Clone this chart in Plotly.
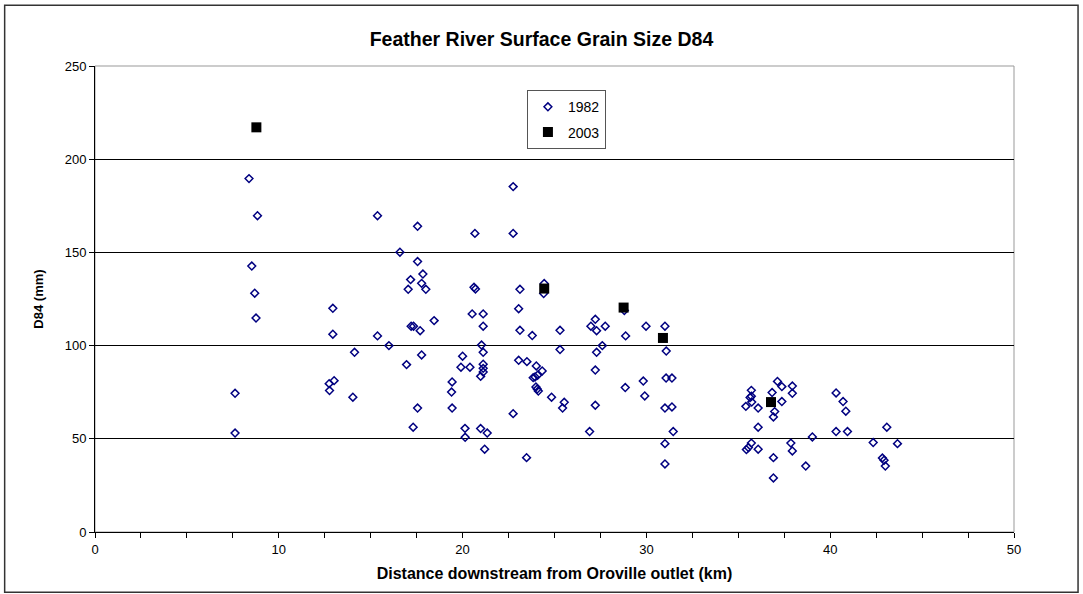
import plotly.graph_objects as go

# 1982 survey: distance downstream (km) and surface D84 (mm)
dist_1982 = [
    8.38, 8.84, 8.53, 8.69, 8.76, 7.62, 7.62,
    12.94, 12.94, 14.12, 12.74, 13.01, 12.76, 14.03, 15.37, 15.37,
    16.59, 17.55, 17.55, 17.84, 17.17, 17.77, 17.04, 18.00,
    20.62, 20.70, 20.67, 22.75, 22.75, 23.12, 24.44, 24.41, 23.05, 28.80,
    15.99, 16.95, 17.55, 17.31, 17.20, 17.33, 17.69, 18.45, 17.77,
    19.43, 19.40, 19.43, 20.00, 19.91, 20.40, 20.52, 21.12, 21.12,
    21.03, 21.12, 21.12, 21.12, 21.12, 20.98, 20.13, 20.14, 20.98,
    21.34, 21.20, 23.05, 23.50, 24.01, 24.33, 24.08, 23.94, 23.84,
    23.99, 24.06, 24.12, 24.84, 25.53, 25.44, 22.75, 23.48, 23.79,
    23.12, 25.30, 25.30, 27.22, 26.98, 27.29, 27.76, 27.60, 27.29,
    27.22, 27.22, 26.91, 28.87, 28.85, 29.98, 29.83, 29.91,
    31.01, 31.08, 31.07, 31.39, 31.01, 31.39, 31.46, 31.01, 31.01,
    35.71, 35.71, 35.64, 35.73, 35.41, 36.08, 36.84, 37.13, 37.37,
    37.37, 36.98, 36.91, 36.08, 35.71, 35.55, 35.44, 36.08, 36.91,
    36.91, 37.94, 37.94, 37.86, 37.94, 38.67, 39.03, 40.32, 40.70,
    40.85, 40.32, 40.94, 42.34, 43.08, 43.66, 42.84, 42.93, 43.00,
]
d84_1982 = [
    189.6, 169.7, 142.7, 128.1, 114.8, 74.4, 53.1,
    120.0, 106.1, 96.4, 79.6, 81.2, 75.9, 72.3, 169.7, 105.2,
    150.1, 164.0, 145.1, 138.4, 135.4, 133.4, 130.2, 130.2,
    131.3, 130.4, 160.2, 160.2, 185.3, 130.2, 133.3, 127.9, 119.8, 118.8,
    100.0, 89.8, 66.5, 56.2, 110.4, 110.4, 108.0, 113.4, 95.0,
    80.5, 75.1, 66.5, 94.3, 88.4, 88.4, 117.0, 117.0, 110.4,
    100.3, 96.4, 90.0, 87.8, 85.8, 83.5, 55.6, 50.8, 55.5,
    53.1, 44.4, 92.1, 91.4, 89.1, 86.4, 84.1, 83.2, 82.8,
    77.8, 76.7, 75.6, 72.3, 69.6, 66.5, 63.5, 39.9, 105.4,
    108.2, 108.2, 97.9, 114.1, 110.4, 108.0, 110.4, 100.0, 96.4,
    86.9, 68.0, 53.9, 105.2, 77.5, 110.4, 81.0, 73.0,
    110.4, 97.1, 82.6, 82.6, 66.5, 67.1, 53.9, 47.4, 36.5,
    76.0, 72.8, 72.1, 69.7, 67.4, 66.5, 74.8, 80.8, 78.0,
    70.0, 64.6, 61.7, 56.2, 47.7, 45.3, 44.2, 44.4, 39.9,
    29.0, 78.3, 74.4, 47.7, 43.5, 35.4, 51.0, 74.6, 70.0,
    64.8, 53.9, 53.9, 48.0, 56.2, 47.4, 39.7, 38.5, 35.4,
]

# 2003 survey
dist_2003 = [8.78, 24.44, 28.76, 30.90, 36.78]
d84_2003 = [217.1, 130.6, 120.4, 104.1, 69.7]

x_ticks = [0, 10, 20, 30, 40, 50]
y_ticks = [0, 50, 100, 150, 200, 250]

FONT = "Liberation Sans, Arial, sans-serif"

fig = go.Figure()
fig.add_trace(go.Scatter(
    x=dist_1982, y=d84_1982, mode="markers", name="1982",
    legendgroup="a",
    marker=dict(symbol="diamond-open", size=6, color="#000080",
                line=dict(width=1.5, color="#000080")),
))
fig.add_trace(go.Scatter(
    x=dist_2003, y=d84_2003, mode="markers", name="2003",
    legendgroup="b",
    marker=dict(symbol="square", size=10, color="#000000"),
))

# outer chart frame and grey plot-area frame
fig.add_shape(type="rect", xref="paper", yref="paper",
              x0=-0.0983, x1=1.0697, y0=-0.1294, y1=1.1303,
              line=dict(color="#333333", width=1.5), layer="below")
fig.add_shape(type="rect", xref="paper", yref="paper",
              x0=0, x1=1, y0=0, y1=1,
              line=dict(color="#999999", width=1), layer="below")

fig.update_layout(
    width=1083, height=594,
    margin=dict(l=95, r=69, t=66, b=62),
    paper_bgcolor="white", plot_bgcolor="white",
    font=dict(family=FONT, size=13, color="black"),
    title=dict(text="<b>Feather River Surface Grain Size D84</b>",
               x=0.5, xanchor="center", y=0.934, yanchor="middle",
               font=dict(family=FONT, size=19.5, color="black")),
    showlegend=True,
    legend=dict(x=0.470, y=0.948, xanchor="left", yanchor="top",
                bgcolor="white", bordercolor="#555555", borderwidth=1,
                font=dict(family=FONT, size=14, color="black"),
                traceorder="grouped", tracegroupgap=4,
                itemwidth=30),
    xaxis=dict(
        range=[0, 50], tickvals=x_ticks, ticktext=[str(v) for v in x_ticks],
        showgrid=False, zeroline=False,
        showline=True, linecolor="#000000", linewidth=1,
        ticks="outside", ticklen=5, tickcolor="#000000",
        minor=dict(dtick=2.5, ticks="outside", ticklen=5, tickcolor="#000000"),
        tickfont=dict(family=FONT, size=13),
        title=dict(text="<b>Distance downstream from Oroville outlet (km)</b>",
                   font=dict(family=FONT, size=16), standoff=12),
    ),
    yaxis=dict(
        range=[0, 250], tickvals=y_ticks, ticktext=[str(v) for v in y_ticks],
        showgrid=True, gridcolor="#000000", gridwidth=1,
        zeroline=False,
        showline=True, linecolor="#000000", linewidth=1,
        ticks="outside", ticklen=5, tickcolor="#000000",
        tickfont=dict(family=FONT, size=13),
        title=dict(text="<b>D84 (mm)</b>", font=dict(family=FONT, size=13),
                   standoff=18),
    ),
)

fig.write_html("out.html")
